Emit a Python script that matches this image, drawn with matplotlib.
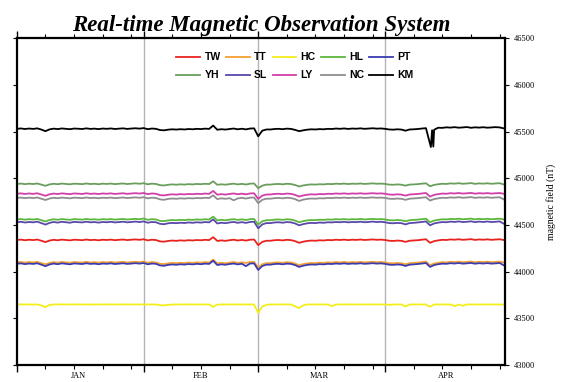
import pandas as pd
import matplotlib
matplotlib.use("Agg")
import matplotlib.pyplot as plt
import matplotlib.dates as mdates
from matplotlib.ticker import NullFormatter

# day offsets from 2013-01-01 (daily samples)
DAYS = list(range(120))
KM_DAYS = list(range(0, 101)) + [101.2, 101.5, 101.8] + list(range(102, 120))

TW = [44340, 44344, 44338, 44343, 44339, 44345, 44332, 44318, 44334, 44342,
      44337, 44344, 44340, 44336, 44343, 44341, 44338, 44345, 44339, 44342,
      44337, 44343, 44340, 44344, 44338, 44342, 44345, 44339, 44343, 44346,
      44342, 44348, 44336, 44343, 44340, 44325, 44322, 44330, 44334, 44331,
      44336, 44333, 44338, 44335, 44340, 44337, 44342, 44339, 44370, 44330,
      44336, 44331, 44338, 44343, 44335, 44341, 44334, 44343, 44345, 44285,
      44320, 44332, 44332, 44338, 44340, 44336, 44342, 44339, 44328, 44310,
      44322, 44330, 44334, 44332, 44337, 44335, 44340, 44338, 44343, 44340,
      44344, 44339, 44343, 44341, 44345, 44340, 44343, 44346, 44342, 44344,
      44340, 44332, 44330, 44334, 44331, 44320, 44332, 44335, 44338, 44343,
      44348, 44310, 44328, 44336, 44342, 44340, 44346, 44343, 44348, 44342,
      44345, 44349, 44341, 44346, 44343, 44347, 44342, 44345, 44348, 44340]
TT = [44100, 44105, 44098, 44104, 44099, 44106, 44092, 44080, 44094, 44103,
      44097, 44105, 44100, 44096, 44104, 44101, 44098, 44106, 44099, 44103,
      44097, 44104, 44100, 44105, 44098, 44103, 44106, 44099, 44104, 44107,
      44103, 44109, 44096, 44104, 44100, 44086, 44082, 44090, 44095, 44091,
      44096, 44093, 44099, 44095, 44101, 44097, 44103, 44099, 44130, 44090,
      44096, 44091, 44098, 44104, 44095, 44101, 44094, 44104, 44106, 44045,
      44080, 44092, 44092, 44099, 44100, 44096, 44103, 44099, 44088, 44070,
      44082, 44090, 44094, 44092, 44098, 44095, 44101, 44098, 44104, 44100,
      44105, 44099, 44104, 44101, 44106, 44100, 44104, 44107, 44102, 44105,
      44100, 44092, 44090, 44094, 44091, 44080, 44092, 44095, 44098, 44104,
      44109, 44070, 44088, 44096, 44103, 44100, 44107, 44104, 44109, 44102,
      44106, 44110, 44101, 44107, 44104, 44108, 44102, 44106, 44109, 44100]
HC = [43650, 43651, 43650, 43650, 43649, 43650, 43640, 43622, 43645, 43650,
      43650, 43651, 43650, 43650, 43650, 43651, 43650, 43650, 43649, 43650,
      43650, 43650, 43651, 43650, 43650, 43650, 43651, 43650, 43650, 43650,
      43650, 43651, 43650, 43650, 43650, 43642, 43640, 43646, 43649, 43650,
      43650, 43650, 43651, 43650, 43650, 43650, 43650, 43650, 43625, 43648,
      43650, 43650, 43650, 43651, 43650, 43650, 43650, 43650, 43650, 43560,
      43628, 43646, 43650, 43650, 43650, 43651, 43650, 43650, 43630, 43612,
      43640, 43650, 43650, 43650, 43651, 43650, 43650, 43632, 43650, 43650,
      43650, 43651, 43650, 43650, 43650, 43650, 43651, 43650, 43650, 43650,
      43650, 43645, 43650, 43650, 43650, 43628, 43650, 43650, 43650, 43650,
      43650, 43625, 43650, 43650, 43650, 43650, 43650, 43632, 43650, 43636,
      43650, 43650, 43650, 43650, 43650, 43650, 43650, 43650, 43650, 43648]
HL = [44560, 44564, 44558, 44563, 44559, 44565, 44552, 44538, 44554, 44562,
      44557, 44564, 44560, 44556, 44563, 44561, 44558, 44565, 44559, 44562,
      44557, 44563, 44560, 44564, 44558, 44562, 44565, 44559, 44563, 44566,
      44562, 44570, 44556, 44563, 44560, 44545, 44542, 44550, 44554, 44551,
      44556, 44553, 44558, 44555, 44560, 44557, 44562, 44559, 44590, 44550,
      44556, 44551, 44558, 44563, 44555, 44561, 44554, 44563, 44565, 44505,
      44540, 44552, 44552, 44558, 44560, 44556, 44562, 44559, 44548, 44530,
      44542, 44550, 44554, 44552, 44557, 44555, 44560, 44558, 44563, 44560,
      44564, 44559, 44563, 44561, 44565, 44560, 44563, 44566, 44562, 44564,
      44560, 44552, 44550, 44554, 44551, 44540, 44552, 44555, 44558, 44563,
      44568, 44530, 44548, 44556, 44562, 44560, 44566, 44563, 44568, 44562,
      44565, 44569, 44561, 44566, 44563, 44567, 44562, 44565, 44568, 44560]
PT = [44085, 44090, 44082, 44088, 44084, 44091, 44076, 44060, 44078, 44088,
      44081, 44090, 44085, 44080, 44089, 44086, 44083, 44091, 44084, 44087,
      44081, 44088, 44085, 44090, 44083, 44087, 44091, 44084, 44088, 44092,
      44087, 44094, 44080, 44088, 44085, 44068, 44064, 44074, 44078, 44075,
      44080, 44077, 44083, 44079, 44085, 44081, 44087, 44084, 44118, 44072,
      44080, 44075, 44083, 44088, 44079, 44086, 44060, 44088, 44090, 44020,
      44062, 44076, 44076, 44083, 44085, 44080, 44087, 44084, 44072, 44052,
      44065, 44074, 44078, 44076, 44082, 44079, 44085, 44083, 44088, 44085,
      44090, 44084, 44088, 44086, 44091, 44085, 44088, 44092, 44087, 44090,
      44085, 44076, 44074, 44078, 44075, 44062, 44076, 44079, 44083, 44088,
      44094, 44052, 44072, 44081, 44087, 44085, 44092, 44088, 44094, 44087,
      44090, 44095, 44086, 44092, 44088, 44093, 44087, 44090, 44094, 44070]
YH = [44940, 44944, 44938, 44943, 44939, 44945, 44933, 44920, 44935, 44942,
      44937, 44944, 44940, 44936, 44943, 44941, 44938, 44945, 44939, 44942,
      44937, 44943, 44940, 44944, 44938, 44942, 44945, 44939, 44943, 44946,
      44942, 44948, 44936, 44943, 44940, 44927, 44924, 44931, 44935, 44932,
      44936, 44933, 44938, 44935, 44940, 44937, 44942, 44939, 44968, 44931,
      44936, 44932, 44938, 44943, 44935, 44941, 44934, 44943, 44945, 44895,
      44922, 44933, 44933, 44938, 44940, 44936, 44942, 44939, 44929, 44913,
      44924, 44931, 44935, 44933, 44937, 44935, 44940, 44938, 44943, 44940,
      44944, 44939, 44943, 44941, 44945, 44940, 44943, 44946, 44942, 44944,
      44940, 44933, 44931, 44935, 44932, 44922, 44933, 44935, 44938, 44943,
      44947, 44915, 44930, 44937, 44942, 44940, 44946, 44943, 44948, 44942,
      44945, 44949, 44941, 44946, 44943, 44947, 44942, 44945, 44948, 44935]
SL = [44530, 44535, 44527, 44533, 44529, 44536, 44521, 44505, 44523, 44533,
      44526, 44535, 44530, 44525, 44534, 44531, 44528, 44536, 44529, 44532,
      44526, 44533, 44530, 44535, 44528, 44532, 44536, 44529, 44533, 44537,
      44532, 44539, 44525, 44533, 44530, 44513, 44509, 44519, 44523, 44520,
      44525, 44522, 44528, 44524, 44530, 44526, 44532, 44529, 44560, 44517,
      44525, 44520, 44528, 44533, 44524, 44531, 44523, 44533, 44535, 44465,
      44507, 44521, 44521, 44528, 44530, 44525, 44532, 44529, 44517, 44497,
      44510, 44519, 44523, 44521, 44527, 44524, 44530, 44528, 44533, 44530,
      44535, 44529, 44533, 44531, 44536, 44530, 44533, 44537, 44532, 44535,
      44530, 44521, 44519, 44523, 44520, 44507, 44521, 44524, 44528, 44533,
      44539, 44497, 44517, 44526, 44532, 44530, 44537, 44533, 44539, 44532,
      44535, 44540, 44531, 44537, 44533, 44538, 44532, 44535, 44539, 44515]
LY = [44835, 44839, 44833, 44838, 44834, 44840, 44827, 44813, 44829, 44837,
      44832, 44839, 44835, 44831, 44838, 44836, 44833, 44840, 44834, 44837,
      44832, 44838, 44835, 44839, 44833, 44837, 44840, 44834, 44838, 44841,
      44837, 44843, 44831, 44838, 44835, 44820, 44817, 44825, 44829, 44826,
      44831, 44828, 44833, 44830, 44835, 44832, 44837, 44834, 44865, 44825,
      44831, 44826, 44833, 44838, 44830, 44836, 44829, 44838, 44840, 44780,
      44815, 44827, 44827, 44833, 44835, 44831, 44837, 44834, 44823, 44805,
      44817, 44825, 44829, 44827, 44832, 44830, 44835, 44833, 44838, 44835,
      44839, 44834, 44838, 44836, 44840, 44835, 44838, 44841, 44837, 44839,
      44835, 44827, 44825, 44829, 44826, 44815, 44827, 44830, 44833, 44838,
      44843, 44805, 44823, 44831, 44837, 44835, 44841, 44838, 44843, 44837,
      44840, 44844, 44836, 44841, 44838, 44842, 44837, 44840, 44843, 44835]
NC = [44790, 44794, 44788, 44793, 44789, 44795, 44782, 44768, 44784, 44792,
      44787, 44794, 44790, 44786, 44793, 44791, 44788, 44795, 44789, 44792,
      44787, 44793, 44790, 44794, 44788, 44792, 44795, 44789, 44793, 44796,
      44792, 44798, 44786, 44793, 44790, 44775, 44770, 44780, 44784, 44781,
      44786, 44783, 44788, 44785, 44790, 44787, 44792, 44789, 44818, 44778,
      44786, 44781, 44788, 44765, 44785, 44791, 44784, 44793, 44795, 44735,
      44770, 44782, 44782, 44788, 44790, 44786, 44792, 44789, 44778, 44758,
      44772, 44780, 44784, 44782, 44787, 44785, 44790, 44788, 44793, 44790,
      44794, 44789, 44793, 44791, 44795, 44790, 44793, 44796, 44792, 44794,
      44790, 44782, 44780, 44784, 44781, 44770, 44782, 44785, 44788, 44793,
      44798, 44762, 44778, 44786, 44792, 44790, 44796, 44793, 44798, 44792,
      44795, 44799, 44791, 44796, 44793, 44797, 44792, 44795, 44798, 44775]
KM = [45530, 45534, 45528, 45533, 45529, 45535, 45522, 45505, 45524, 45532,
      45527, 45534, 45530, 45526, 45533, 45531, 45528, 45535, 45529, 45532,
      45527, 45533, 45530, 45534, 45528, 45532, 45535, 45529, 45533, 45536,
      45532, 45538, 45526, 45533, 45530, 45517, 45514, 45521, 45525, 45522,
      45526, 45523, 45528, 45525, 45530, 45527, 45532, 45529, 45565, 45520,
      45526, 45522, 45528, 45533, 45525, 45531, 45524, 45533, 45535, 45450,
      45510, 45523, 45523, 45528, 45530, 45526, 45532, 45529, 45519, 45505,
      45514, 45521, 45525, 45523, 45527, 45525, 45530, 45528, 45533, 45530,
      45534, 45529, 45533, 45531, 45535, 45530, 45533, 45536, 45532, 45534,
      45530, 45523, 45521, 45525, 45522, 45510, 45523, 45525, 45528, 45533,
      45537, 45335, 45515, 45340, 45520, 45542, 45540, 45546, 45543, 45548,
      45542, 45545, 45549, 45541, 45546, 45543, 45547, 45542, 45545, 45548,
      45545, 45535]

STATIONS = ["TW", "TT", "HC", "HL", "PT", "YH", "SL", "LY", "NC", "KM"]
COLORS = ["#e8231e", "#f5a032", "#f4ee1a", "#5cb83c", "#3a3cb0",
          "#6a9e5c", "#5a48aa", "#d23ea8", "#8e8e8e", "#000000"]
MONTHS = ["JAN", "FEB", "MAR", "APR"]

start = pd.Timestamp("2013-01-01")
def to_dates(days):
    return start + pd.to_timedelta(days, unit="D")

fig = plt.figure(figsize=(5.79, 3.82), dpi=100)
ax = fig.add_axes([0.029, 0.044, 0.843, 0.856])

series = [TW, TT, HC, HL, PT, YH, SL, LY, NC, KM]
handles = {}
for name, vals, col in zip(STATIONS, series, COLORS):
    d = KM_DAYS if name == "KM" else DAYS
    h, = ax.plot(to_dates(d), vals, color=col, lw=1.3, label=name)
    handles[name] = h

for m in ["2013-02-01", "2013-03-01", "2013-04-01"]:
    ax.axvline(pd.Timestamp(m), color="#b4b4b4", lw=1.0, zorder=0)

ax.set_xlim(start, pd.Timestamp("2013-04-30 07:00"))
ax.set_ylim(43000, 46500)
ax.set_yticks(range(43000, 46501, 500))

ax.xaxis.set_major_locator(mdates.MonthLocator())
ax.xaxis.set_minor_locator(mdates.DayLocator(bymonthday=[8, 15, 22, 29]))
ax.xaxis.set_major_formatter(NullFormatter())
ax.tick_params(axis="x", which="major", direction="out", length=5, width=1.0,
               top=True, bottom=True)
ax.tick_params(axis="x", which="minor", direction="out", length=3, width=0.8,
               top=True, bottom=True)
ax.tick_params(axis="y", direction="out", length=3, width=0.8, left=True,
               right=True, labelleft=False, labelright=True, labelsize=6)
for lab in ax.get_yticklabels():
    lab.set_family("Liberation Serif")

for sp in ax.spines.values():
    sp.set_linewidth(1.6)

mid = ["2013-01-16", "2013-02-15", "2013-03-16", "2013-04-16"]
for m, txt in zip(mid, MONTHS):
    ax.text(pd.Timestamp(m), -0.022, txt, transform=ax.get_xaxis_transform(),
            ha="center", va="top", fontsize=6, family="Liberation Serif")

ax.yaxis.set_label_position("right")
ax.set_ylabel("magnetic field (nT)", fontsize=7, family="Liberation Serif",
              labelpad=8)

ax.set_title("Real-time Magnetic Observation System", fontsize=16.5,
             family="Liberation Serif", weight="bold", style="italic", pad=5)

order = ["TW", "YH", "TT", "SL", "HC", "LY", "HL", "NC", "PT", "KM"]
ax.legend([handles[n] for n in order], order, ncol=5, loc="upper center",
          bbox_to_anchor=(0.57, 0.985), frameon=False, handlelength=2.3,
          columnspacing=0.5, handletextpad=0.4, labelspacing=0.75,
          prop={"family": "Liberation Sans", "weight": "bold", "size": 7.5})

fig.savefig("out.png", dpi=100)
